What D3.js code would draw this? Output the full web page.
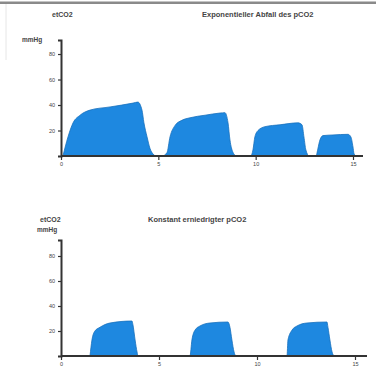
<!DOCTYPE html>
<html>
<head>
<meta charset="utf-8">
<script src="https://cdn.jsdelivr.net/npm/d3@7"></script>
<style>
  body { margin: 0; background: #fff; }
  svg { display: block; font-family: "Liberation Sans", Arial, sans-serif; }
</style>
</head>
<body>
<svg id="chart" width="376" height="369"></svg>
<script>
const width = 376;
const height = 369;

// time axis (min) and tick labels
const xTicks = [0, 5, 10, 15];
const yTicks = [20, 40, 60, 80];

// top panel: exponential fall of pCO2
const topTime = [0.1, 0.36, 0.62, 0.98, 1.49, 2.52, 3.7, 3.95, 4.16, 4.26, 4.42, 4.57, 4.73, 4.9,
  5.19, 5.44, 5.6, 5.86, 6.21, 6.63, 7.4, 8.17, 8.42, 8.58, 8.68, 8.83, 9.0,
  9.75, 9.86, 9.96, 10.12, 10.48, 11.25, 12.17, 12.38, 12.48, 12.58, 12.75,
  13.1, 13.2, 13.3, 13.46, 13.97, 14.74, 14.89, 15.0, 15.05, 15.15];
const topValue = [0, 15, 26, 32, 36, 38.5, 41.5, 42.3, 36, 26, 15, 6, 1.5, 0,
  0, 2.5, 15, 24, 28, 30, 32, 33.7, 34, 26, 12.5, 3, 0,
  0, 4.7, 15, 20, 23, 24.5, 26, 24.5, 15, 4.7, 0,
  0, 6, 12.5, 16, 16.5, 17, 15, 7, 2, 0];

// bottom panel: constant lowered pCO2
const bottomTime = [1.48, 1.58, 1.73, 1.99, 2.5, 3.62, 3.67, 3.78, 3.88, 3.93,
  6.58, 6.68, 6.84, 7.09, 7.6, 8.52, 8.62, 8.72, 8.83, 8.93,
  11.53, 11.58, 11.79, 12.04, 12.55, 13.57, 13.62, 13.72, 13.83, 13.93];
const bottomValue = [0, 12.8, 20, 23, 26.4, 28, 25, 12.8, 3.2, 0,
  0, 12.8, 20.8, 24, 26.4, 27.2, 23, 12.8, 3.2, 0,
  0, 12.8, 20.8, 24, 26.4, 27.2, 23, 12.8, 3.2, 0];

const fillColor = "#1e88e0";
const axisColor = "#333";

const svg = d3.select("#chart");

// frame line along the top of the picture
svg.append("rect").attr("x", 0).attr("y", 1.5).attr("width", width).attr("height", 2.5).attr("fill", "#8a8a8a");
svg.append("line").attr("x1", 6).attr("x2", 6).attr("y1", 4).attr("y2", 60)
  .attr("stroke", "#e6e6e6").attr("stroke-width", 1);

function drawPanel(opts) {
  const x = d3.scaleLinear().domain([0, 15]).range([61, opts.xEnd]);
  const y = d3.scaleLinear().domain([0, opts.yMax]).range([opts.base, opts.top]);
  const g = svg.append("g");

  const pts = opts.time.map((t, i) => ({ t: t, v: opts.value[i] }));
  const area = d3.area()
    .x(d => x(d.t))
    .y0(y(0))
    .y1(d => y(d.v))
    .curve(d3.curveMonotoneX);

  g.append("path")
    .datum(pts)
    .attr("d", area)
    .attr("fill", fillColor)
    .attr("stroke", "#1670bd")
    .attr("stroke-width", 0.8);

  // x axis
  const xAxis = g.append("g")
    .attr("transform", `translate(0,${opts.base})`)
    .call(d3.axisBottom(x).tickValues(xTicks).tickSize(4).tickPadding(2).tickFormat(d3.format("d")));
  xAxis.select(".domain").remove();
  xAxis.append("line")
    .attr("x1", 61).attr("x2", opts.axisEnd)
    .attr("stroke", axisColor).attr("stroke-width", 2);
  xAxis.selectAll(".tick line").attr("stroke", axisColor).attr("stroke-width", 1.2);
  xAxis.selectAll(".tick text").attr("fill", "#444").style("font-size", "5.5px");

  // y axis
  const yAxis = g.append("g")
    .attr("transform", "translate(61,0)")
    .call(d3.axisLeft(y).tickValues(yTicks).tickSize(3).tickPadding(3));
  yAxis.select(".domain").attr("stroke", axisColor).attr("stroke-width", 2);
  yAxis.selectAll(".tick line").attr("stroke", axisColor).attr("stroke-width", 1.2);
  yAxis.selectAll(".tick text").attr("fill", "#444").style("font-size", "5.5px");

  // labels
  g.append("text").attr("x", opts.unitX).attr("y", opts.unitY)
    .attr("font-size", 6.5).attr("font-weight", "bold").attr("fill", "#444").text("mmHg");
  g.append("text").attr("x", opts.nameX).attr("y", opts.nameY)
    .attr("font-size", 7).attr("font-weight", "bold").attr("fill", "#444").text("etCO2");
  g.append("text").attr("x", opts.titleX).attr("y", opts.nameY)
    .attr("font-size", 7.5).attr("font-weight", "bold").attr("fill", "#444").text(opts.title);
}

drawPanel({
  time: topTime, value: topValue,
  xEnd: 353, axisEnd: 363, base: 156, top: 40, yMax: 91,
  unitX: 22, unitY: 42, nameX: 52, nameY: 17,
  titleX: 202, title: "Exponentieller Abfall des pCO2"
});

drawPanel({
  time: bottomTime, value: bottomValue,
  xEnd: 355, axisEnd: 367, base: 356, top: 240, yMax: 92.8,
  unitX: 37, unitY: 232, nameX: 40, nameY: 222,
  titleX: 148, title: "Konstant erniedrigter pCO2"
});
</script>
</body>
</html>
